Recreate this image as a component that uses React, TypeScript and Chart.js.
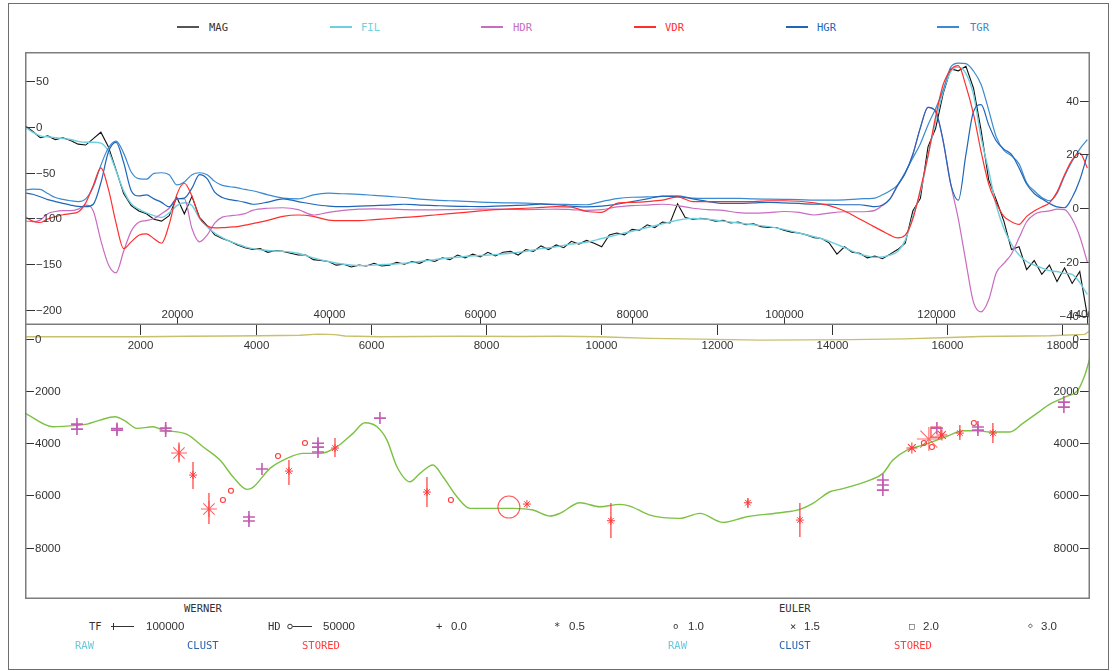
import React, { useEffect, useRef } from "react";
import { Chart, registerables } from "chart.js";

Chart.register(...registerables);

// ---------------- TOP PANEL DATA (profile distance in km) ----------------
const DIST_KM = [
  0, 1, 2, 3, 4, 5, 6, 7, 8, 9, 10, 11, 12, 13, 14, 15, 16, 17, 18, 19, 20, 21, 22, 23, 24, 25, 26, 27, 28, 29, 30,
  32, 34, 36, 38, 40, 42, 44, 46, 48, 50, 52, 54, 56, 58, 60, 62, 64, 66, 68, 70, 72, 74, 76, 78, 80, 82, 84, 86, 88, 90,
  92, 94, 96, 98, 100, 102, 104, 106, 108, 110,
  111, 112, 113, 114, 115, 116, 117, 118, 119, 120, 121, 122, 123, 124, 125, 126, 127, 128, 129, 130,
  131, 132, 133, 134, 135, 136, 137, 138, 139, 140,
];

const FIL = [
  0, -6, -10, -11, -12, -13, -14, -16, -17, -17, -18, -27, -48, -70, -84, -90, -94, -97, -99, -94, -86, -83, -86, -100, -109, -116, -121, -125, -128, -131, -133,
  -135, -136, -138, -143, -147, -150, -151.5, -151, -150, -149, -147, -145, -143, -141.5, -140.5, -139.5, -138, -136, -133, -131,
  -128, -126, -122, -118, -114, -110, -106, -102, -100, -101, -103, -105, -107, -109, -112, -116, -120, -125, -132, -139,
  -141, -142.5, -142, -140, -136, -124, -98, -71, -32, 6, 38, 60, 65, 58, 35, -12, -48, -86, -111, -128,
  -140, -147, -151, -154, -157, -158, -160, -161, -170, -183,
];

const HDR = [
  -4.7, -5, -4.4, -2, -1.2, -0.9, -0.9, -0.3, 1.2, -1, -12, -21, -24, -16, -8.5, -5.2, -4.6, -3.8, -2, 0, 3.5, 3.5, -7.5, -12.5, -10, -5.5, -3.3, -2.8, -2.5, -2, -0.8,
  0, 0.2, -0.5, -2.5, -1.5, -0.8, -0.3, -0.2, -0.3, -0.5, -0.6, -0.6, -0.5, -0.4, -0.3, -0.3, -0.4, -0.5, -0.4, -0.3,
  -0.5, -0.8, -0.5, 0.5, 1, 1.2, 1.5, 1, 0, -0.5, -0.8, -1.6, -1.8, -1.6, -1.2, -1.5, -2.5, -1.8, -1.3, -1.3,
  -1.2, -0.8, 1, 3.5, 8.5, 13, 20, 30, 37.5, 36, 25, 9, -4, -20, -35, -38.5, -34, -24, -20.5, -17,
  -11, -5, -2.3, -1.3, -1, -0.3, -0.5, -4, -10.5, -20,
];

const VDR = [
  -3.1, -4.8, -5.3, -4, -3.1, -2.4, -2, -1.4, 2, 8.5, 15, 7, -5.5, -15, -12.5, -10, -9.5, -11.3, -13, -6, 5, 9.3, 4.5, -3.5, -6.5, -7.3, -7.2, -7, -6.8, -6.3, -5.7,
  -4.5, -3, -2.5, -3, -4.4, -4.6, -4.6, -4.2, -3.8, -3.4, -3, -2.5, -2, -1.5, -1, -0.5, -0.2, 0, 0.3, 0.6,
  0.4, -1.2, -1.5, 1.8, 2.2, 2.5, 3, 4.2, 2.5, 2.5, 2.5, 2.5, 2.5, 2.8, 2.8, 2.6, 2, 1, -1, -4,
  -5.5, -7, -8.5, -10, -11, -10, -4, 7, 19.5, 34, 46, 51.5, 53, 45.5, 35, 21, 9, 2, -3, -5,
  -6, -3, -1, 0.5, 2, 6, 12.5, 18, 20.5, 15,
];

const HGR = [
  5.7, 5.2, 4.3, 3.2, 2.5, 1.8, 1.2, 0.7, 0.6, 1.5, 9.5, 21, 24.5, 17, 6.5, 4.6, 5, 3.5, 2.2, 0.5, 3.5, 3.8, 7.5, 12.5, 11, 6, 4, 3.2, 2.8, 2.2, 1.5,
  2.3, 3.5, 2.5, 1.5, 0.8, 0.6, 0.8, 1, 1.2, 1.5, 1.2, 1, 0.8, 0.7, 0.6, 0.8, 1, 1.2, 1.5, 1.3,
  0.8, 0.5, 0.8, 1.5, 2.5, 3.5, 4.5, 4.3, 3.5, 2.5, 1.8, 1.8, 2, 2.2, 2, 1.8, 1.5, 1.5, 1.3, 1.3,
  1, 0.6, 1.2, 3.5, 8.5, 13, 20, 30, 37.5, 36, 25, 9, 3, 20, 36, 38.5, 31, 25, 22, 20,
  15, 9, 5.5, 3.5, 1.8, 0.5, 0.2, 4, 10.5, 20,
];

const TGR = [
  6.8, 7.1, 7, 5.5, 4, 3.3, 2.8, 2.5, 3.5, 8, 16, 22.5, 25, 20.5, 13.5, 11, 10.8, 13, 13.2, 12.5, 8.7, 9.8, 12.5, 13.2, 12.5, 10, 8.5, 8, 7.6, 7, 6.5,
  5, 3.8, 3.5, 5, 5.6, 5.4, 5.2, 4.8, 4.4, 4, 3.4, 3, 2.8, 2.6, 2.3, 2.1, 2, 1.9, 1.7, 1.5,
  1.4, 1.3, 2.5, 3.6, 4.1, 4.2, 4.4, 4.6, 3.8, 3.7, 3.7, 3.7, 3.5, 3.4, 3.3, 3.2, 3, 3, 3.1, 3.5,
  3.6, 3.8, 5, 6.5, 8.7, 13.4, 18.7, 24, 31, 37, 44, 52.5, 54, 53.8, 51, 46, 36.5, 26.5, 21.5, 19.5,
  16.5, 9.5, 6.5, 4, 2.8, 5.5, 12, 17.5, 22, 25.5,
];

// raw magnetic profile, one reading every MAG_STEP_M metres
const MAG_STEP_M = 1000;
const MAG = [
  1, -5, -12, -10, -14, -12, -15, -19, -20, -13,
  -6, -22, -47, -73, -86, -92, -95, -101, -103, -97,
  -77, -95, -76, -99, -108, -118, -122, -125, -129, -132,
  -134, -133, -137, -135, -136, -138, -140, -140, -145, -146,
  -147, -151, -150, -153, -151, -152, -149, -152, -151, -148,
  -150, -147, -149, -145, -147, -143, -145, -140, -143, -139,
  -142, -137, -141, -137, -136, -140, -134, -136, -130, -134,
  -129, -132, -125, -128, -124, -127, -131, -118, -116, -118,
  -112, -113, -107, -110, -104, -105, -84, -99, -101, -100,
  -101, -103, -102, -105, -104, -107, -106, -109, -110, -110,
  -113, -115, -116, -118, -121, -122, -127, -139, -131, -137,
  -138, -143, -141, -144, -139, -134, -127, -92, -78, -22,
  -2, 36, 63, 61, 66, 42, -4, -58, -80, -103,
  -134, -131, -156, -146, -161, -151, -169, -154, -171, -158,
  -206,
];

const TOP_X_TICKS = [20000, 40000, 60000, 80000, 100000, 120000, 140000];
const TOP_LEFT_TICKS = [50, 0, -50, -100, -150, -200];
const TOP_RIGHT_TICKS = [40, 20, 0, -20, -40];

// ---------------- BOTTOM PANEL DATA (x in m, depth in m) ----------------
const MODEL_X = [
  0, 486, 902, 1076, 1301, 1562, 1735, 1943, 2221, 2394, 2811, 3088, 3383, 3609, 3852, 3956, 4251, 4546, 4823, 5118,
  5413, 5691, 5899, 6107, 6281, 6454, 6680, 6853, 7079, 7252, 7495, 7721, 8016, 8467, 8814, 9109, 9282, 9629, 9976,
  10323, 10497, 10844, 11364, 11711, 12110, 12527, 13099, 13446, 13672, 13967, 14140, 14661, 14886, 15060, 15303,
  15580, 15823, 16049, 16274, 16517, 16743, 17090, 17315, 17558, 17784, 18044, 18270, 18391, 18478,
];
const MODEL_DEPTH = [
  2850, 3373, 3319, 3270, 3117, 2990, 3150, 3434, 3373, 3499, 3663, 4138, 4646, 5285, 5767, 5690, 4964, 4581, 4390, 4390,
  4138, 3625, 3220, 3373, 3881, 4902, 5476, 5155, 4837, 5285, 6050, 6493, 6493, 6493, 6558, 6788, 6684, 6279, 6432,
  6340, 6405, 6750, 6876, 6684, 7029, 6814, 6661, 6531, 6302, 5858, 5767, 5411, 5155, 4646, 4264,
  4073, 3881, 3690, 3526, 3526, 3575, 3575, 3243, 2860, 2505, 2237, 1969, 1396, 746,
];

const BASE_X = [0, 1995, 2863, 3557, 4077, 4771, 5084, 5379, 5552, 6159, 6853, 7547, 8588, 9282, 9976, 10844, 11711, 12752, 14314, 15268, 16049, 16569, 17784, 18391, 18478];
const BASE_Y = [-70, -70, -90, -100, -110, -130, -170, -150, -100, -70, -80, -90, -80, -90, -70, -10, 20, 60, 40, 10, -40, -80, -110, -160, -300];

// error bars of stored solutions
const ERR_X = [2672, 2915, 3192, 4580, 5379, 6975, 10167, 12544, 13446, 16222, 16795];
const ERR_TOP = [3978, 4723, 5908, 4646, 3805, 5296, 6291, 6100, 6291, 3308, 3231];
const ERR_BOT = [4742, 5755, 7094, 5602, 4532, 6443, 7629, 6482, 7591, 3881, 3996];

const STAR_L_X = [2672, 3192];
const STAR_L_Y = [4378, 6520];
const STAR_XL_X = [15684];
const STAR_XL_Y = [3843];
const STAR_M_X = [15389, 15910];
const STAR_M_Y = [4187, 3690];
const STAR_S_X = [2915, 4580, 5379, 6975, 8710, 10167, 12544, 13446, 16222, 16795];
const STAR_S_Y = [5220, 5067, 4187, 5870, 6329, 6967, 6279, 6941, 3614, 3614];

const CIRC_X = [3435, 3574, 4390, 4858, 7391, 15598, 15737, 16465];
const CIRC_Y = [6176, 5820, 4493, 3996, 6176, 3996, 4149, 3231];
const RING_X = [8397];
const RING_Y = [6443];
const SQ_X = [15806];
const SQ_Y = [3576];

const CROSS_X = [902, 902, 1596, 1596, 2441, 2441, 4112, 3886, 3886, 5084, 5084, 5084, 6159, 18027, 18027, 14886, 14886, 14886, 15823, 16535, 16535];
const CROSS_Y = [3270, 3461, 3440, 3500, 3423, 3537, 4990, 6826, 6979, 4000, 4150, 4340, 3040, 2428, 2620, 5411, 5602, 5794, 3423, 3384, 3499];

const BOT_X_TICKS = [2000, 4000, 6000, 8000, 10000, 12000, 14000, 16000, 18000];
const BOT_Y_TICKS = [0, 2000, 4000, 6000, 8000];

// ---------------- styling ----------------
const C_MAG = "#111111";
const C_FIL = "#6dd0de";
const C_HDR = "#c86cc0";
const C_VDR = "#ff2e2e";
const C_HGR = "#1f66b8";
const C_TGR = "#3a8ad2";
const C_RED = "#ff3a3a";
const C_MAGENTA = "#c25db2";
const TICK_FONT = '11.5px "Liberation Sans", Arial, sans-serif';
const TICK_COLOR = "#333333";
const BOX_COLOR = "#7d7d7d";
const MONO = '"DejaVu Sans Mono", monospace';
const SANS = '"Liberation Sans", Arial, sans-serif';

const fmt = (v: number) => (v < 0 ? "\u2212" + Math.abs(v) : String(v));
const pts = (xs: number[], ys: number[]) => xs.map((x, i) => ({ x, y: ys[i] }));

const topAxesPlugin = {
  id: "topAxes",
  afterDraw(chart: any) {
    const { ctx, chartArea: a, scales } = chart;
    ctx.save();
    ctx.lineWidth = 1;
    ctx.strokeStyle = TICK_COLOR;
    ctx.fillStyle = TICK_COLOR;
    ctx.font = TICK_FONT;
    ctx.textBaseline = "middle";
    ctx.textAlign = "left";
    for (const v of TOP_LEFT_TICKS) {
      const y = Math.round(scales.yL.getPixelForValue(v)) + 0.5;
      ctx.beginPath();
      ctx.moveTo(a.left, y);
      ctx.lineTo(a.left + 10, y);
      ctx.stroke();
      ctx.fillText(fmt(v), a.left + 11, y + 0.5);
    }
    ctx.textAlign = "right";
    for (const v of TOP_RIGHT_TICKS) {
      const y = Math.round(scales.yR.getPixelForValue(v)) + 0.5;
      ctx.beginPath();
      ctx.moveTo(a.right - 10, y);
      ctx.lineTo(a.right, y);
      ctx.stroke();
      ctx.fillText(fmt(v), a.right - 11, y + 0.5);
    }
    ctx.textAlign = "center";
    ctx.textBaseline = "alphabetic";
    for (const v of TOP_X_TICKS) {
      const x = Math.round(scales.x.getPixelForValue(v)) + 0.5;
      ctx.beginPath();
      ctx.moveTo(x, a.bottom - 8);
      ctx.lineTo(x, a.bottom);
      ctx.stroke();
      ctx.fillText(String(v), x, a.bottom - 7);
    }
    ctx.strokeStyle = BOX_COLOR;
    ctx.lineWidth = 1.5;
    ctx.strokeRect(a.left + 0.75, a.top + 0.75, a.right - a.left - 1.5, a.bottom - a.top - 1.5);
    ctx.restore();
  },
};

const botAxesPlugin = {
  id: "botAxes",
  afterDraw(chart: any) {
    const { ctx, chartArea: a, scales } = chart;
    ctx.save();
    ctx.lineWidth = 1;
    ctx.strokeStyle = TICK_COLOR;
    ctx.fillStyle = TICK_COLOR;
    ctx.font = TICK_FONT;
    ctx.textBaseline = "middle";
    for (const v of BOT_Y_TICKS) {
      const y = Math.round(scales.y.getPixelForValue(v)) + 0.5;
      ctx.beginPath();
      ctx.moveTo(a.left, y);
      ctx.lineTo(a.left + 9, y);
      ctx.moveTo(a.right - 10, y);
      ctx.lineTo(a.right, y);
      ctx.stroke();
      ctx.textAlign = "left";
      ctx.fillText(String(v), a.left + 10, y + 0.5);
      ctx.textAlign = "right";
      ctx.fillText(String(v), a.right - 11, y + 0.5);
    }
    ctx.textAlign = "center";
    ctx.textBaseline = "alphabetic";
    for (const v of BOT_X_TICKS) {
      const x = Math.round(scales.x.getPixelForValue(v)) + 0.5;
      ctx.beginPath();
      ctx.moveTo(x, a.top);
      ctx.lineTo(x, a.top + 10);
      ctx.stroke();
      ctx.fillText(String(v), x, a.top + 24);
    }
    ctx.strokeStyle = BOX_COLOR;
    ctx.lineWidth = 1.5;
    ctx.beginPath();
    ctx.moveTo(a.left + 0.75, a.top);
    ctx.lineTo(a.left + 0.75, a.bottom - 0.75);
    ctx.lineTo(a.right - 0.75, a.bottom - 0.75);
    ctx.lineTo(a.right - 0.75, a.top);
    ctx.stroke();
    ctx.restore();
  },
};

function markerSet(xs: number[], ys: number[], style: string, radius: number, color: string, width: number, order: number) {
  return {
    type: "line",
    data: pts(xs, ys),
    showLine: false,
    pointStyle: style,
    pointRadius: radius,
    pointBorderColor: color,
    pointBackgroundColor: "rgba(0,0,0,0)",
    pointBorderWidth: width,
    borderColor: color,
    order,
  };
}

function Label(props: { x: number; y: number; text: string; color?: string; font?: string; size?: number }) {
  const size = props.size || 10.5;
  return (
    <span
      style={{
        position: "absolute",
        left: props.x,
        top: props.y - 7,
        height: 14,
        lineHeight: "14px",
        fontFamily: props.font || MONO,
        fontSize: size,
        color: props.color || "#333",
        whiteSpace: "nowrap",
      }}
    >
      {props.text}
    </span>
  );
}

const TOP_LEGEND = [
  { label: "MAG", color: "#333333", line: "#555555", lx: 177, tx: 209 },
  { label: "FIL", color: C_FIL, line: C_FIL, lx: 330, tx: 361 },
  { label: "HDR", color: C_HDR, line: C_HDR, lx: 481, tx: 513 },
  { label: "VDR", color: C_VDR, line: C_VDR, lx: 634, tx: 665 },
  { label: "HGR", color: C_HGR, line: C_HGR, lx: 786, tx: 817 },
  { label: "TGR", color: C_TGR, line: C_TGR, lx: 937, tx: 970 },
];

export default function App() {
  const topRef = useRef<HTMLCanvasElement | null>(null);
  const botRef = useRef<HTMLCanvasElement | null>(null);

  useEffect(() => {
    const dist = DIST_KM.map((k) => k * 1000);
    const smooth = (ys: number[], color: string, axis: string, order: number, width = 1.2) => ({
      type: "line",
      data: pts(dist, ys),
      borderColor: color,
      borderWidth: width,
      pointRadius: 0,
      cubicInterpolationMode: "monotone",
      yAxisID: axis,
      order,
    });
    const magData = MAG.map((v, i) => ({ x: i * MAG_STEP_M, y: v }));

    const top = new Chart(topRef.current as HTMLCanvasElement, {
      type: "line",
      data: {
        datasets: [
          smooth(VDR, C_VDR, "yR", 1),
          smooth(HGR, C_HGR, "yR", 2),
          smooth(TGR, C_TGR, "yR", 3),
          smooth(HDR, C_HDR, "yR", 4),
          smooth(FIL, C_FIL, "yL", 5, 1.4),
          {
            type: "line",
            data: magData,
            borderColor: C_MAG,
            borderWidth: 1.1,
            pointRadius: 0,
            tension: 0,
            yAxisID: "yL",
            order: 6,
          },
        ] as any,
      },
      options: {
        responsive: false,
        maintainAspectRatio: false,
        animation: false,
        events: [],
        layout: { padding: 0, autoPadding: false },
        plugins: { legend: { display: false }, tooltip: { enabled: false } },
        scales: {
          x: { type: "linear", min: 0, max: 140350, display: false },
          yL: { type: "linear", position: "left", min: -216.3, max: 81.5, display: false },
          yR: { type: "linear", position: "right", min: -43.4, max: 58.1, display: false },
        },
      } as any,
      plugins: [topAxesPlugin],
    });

    const errData: any[] = [];
    ERR_X.forEach((x, i) => {
      errData.push({ x, y: ERR_TOP[i] }, { x, y: ERR_BOT[i] }, { x, y: null });
    });

    const bot = new Chart(botRef.current as HTMLCanvasElement, {
      type: "line",
      data: {
        datasets: [
          markerSet(CROSS_X, CROSS_Y, "cross", 6, C_MAGENTA, 1.6, 1),
          markerSet(STAR_XL_X, STAR_XL_Y, "star", 12, "rgba(255,70,70,0.8)", 1.1, 2),
          markerSet(STAR_L_X, STAR_L_Y, "star", 8, "rgba(255,70,70,0.85)", 1.1, 2),
          markerSet(STAR_M_X, STAR_M_Y, "star", 5.5, C_RED, 1.1, 2),
          markerSet(STAR_S_X, STAR_S_Y, "star", 4, C_RED, 1, 2),
          markerSet(CIRC_X, CIRC_Y, "circle", 2.5, C_RED, 1.1, 2),
          markerSet(RING_X, RING_Y, "circle", 11, "rgba(255,60,60,0.85)", 1.1, 2),
          markerSet(SQ_X, SQ_Y, "rect", 7, C_RED, 1.2, 2),
          {
            type: "line",
            data: errData,
            borderColor: C_RED,
            borderWidth: 1.2,
            pointRadius: 0,
            spanGaps: false,
            order: 3,
          },
          {
            type: "line",
            data: pts(MODEL_X, MODEL_DEPTH),
            borderColor: "#7cc143",
            borderWidth: 1.4,
            pointRadius: 0,
            cubicInterpolationMode: "monotone",
            order: 4,
          },
          {
            type: "line",
            data: pts(BASE_X, BASE_Y),
            borderColor: "#c8c06a",
            borderWidth: 1.4,
            pointRadius: 0,
            tension: 0,
            order: 5,
          },
        ] as any,
      },
      options: {
        responsive: false,
        maintainAspectRatio: false,
        animation: false,
        events: [],
        layout: { padding: 0, autoPadding: false },
        plugins: { legend: { display: false }, tooltip: { enabled: false } },
        scales: {
          x: { type: "linear", min: 0, max: 18480, display: false },
          y: { type: "linear", min: -520, max: 9960, reverse: true, display: false },
        },
      } as any,
      plugins: [botAxesPlugin],
    });

    return () => {
      top.destroy();
      bot.destroy();
    };
  }, []);

  return (
    <div style={{ position: "absolute", left: 0, top: 0, width: 1112, height: 671, background: "#fff" }}>
      <div
        style={{
          position: "absolute",
          left: 8,
          top: 3,
          width: 1101,
          height: 667,
          border: "1px solid #6e6e6e",
          boxSizing: "border-box",
        }}
      />
      {TOP_LEGEND.map((l) => (
        <React.Fragment key={l.label}>
          <div style={{ position: "absolute", left: l.lx, top: 26, width: 22, height: 2, background: l.line }} />
          <Label x={l.tx} y={27} text={l.label} color={l.color} />
        </React.Fragment>
      ))}

      <canvas
        ref={topRef}
        width={1065}
        height={273}
        style={{ position: "absolute", left: 25, top: 52, width: 1065, height: 273 }}
      />
      <canvas
        ref={botRef}
        width={1065}
        height={274}
        style={{ position: "absolute", left: 25, top: 325, width: 1065, height: 274 }}
      />

      {/* bottom legend */}
      <Label x={184} y={608} text="WERNER" />
      <Label x={779} y={608} text="EULER" />

      <Label x={89} y={626} text="TF" />
      <svg style={{ position: "absolute", left: 0, top: 0 }} width={1112} height={671} pointerEvents="none">
        <line x1={111} y1={626.5} x2={134} y2={626.5} stroke="#333" strokeWidth={1} />
        <line x1={113.5} y1={623} x2={113.5} y2={630} stroke="#333" strokeWidth={1} />
        <circle cx={290} cy={626.5} r={2.3} fill="none" stroke="#333" strokeWidth={1} />
        <line x1={292.5} y1={626.5} x2={312} y2={626.5} stroke="#333" strokeWidth={1} />
      </svg>
      <Label x={146} y={626} text="100000" font={SANS} size={11.5} />
      <Label x={268} y={626} text="HD" />
      <Label x={323} y={626} text="50000" font={SANS} size={11.5} />

      <Label x={436} y={626} text="+" />
      <Label x={451} y={626} text="0.0" font={SANS} size={11.5} />
      <Label x={554} y={626} text="*" />
      <Label x={569} y={626} text="0.5" font={SANS} size={11.5} />
      <Label x={673} y={626} text="o" size={9} />
      <Label x={688} y={626} text="1.0" font={SANS} size={11.5} />
      <Label x={790} y={626} text="×" />
      <Label x={804} y={626} text="1.5" font={SANS} size={11.5} />
      <Label x={909} y={626} text="□" size={9} />
      <Label x={923} y={626} text="2.0" font={SANS} size={11.5} />
      <Label x={1028} y={626} text="◇" size={8} />
      <Label x={1041} y={626} text="3.0" font={SANS} size={11.5} />

      <Label x={75} y={645} text="RAW" color="#6cc8dc" />
      <Label x={187} y={645} text="CLUST" color="#2a62b0" />
      <Label x={302} y={645} text="STORED" color="#ff3c3c" />
      <Label x={668} y={645} text="RAW" color="#6cc8dc" />
      <Label x={779} y={645} text="CLUST" color="#2a62b0" />
      <Label x={894} y={645} text="STORED" color="#ff3c3c" />
    </div>
  );
}
